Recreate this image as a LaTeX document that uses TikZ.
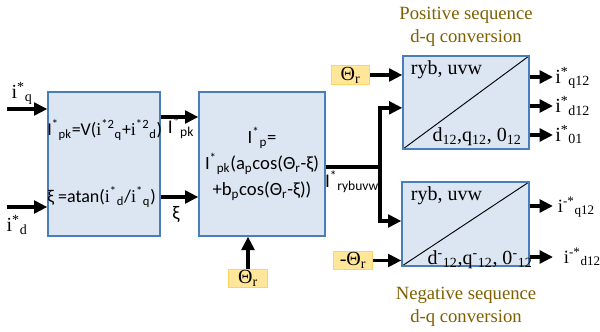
\documentclass[tikz,border=0pt]{standalone}
\usepackage{fontspec}
\setmainfont{Carlito}
\newfontfamily\tnr{Liberation Serif}
\usetikzlibrary{arrows.meta,positioning,calc}
\definecolor{boxfill}{RGB}{220,230,242}
\definecolor{boxline}{RGB}{74,126,187}
\definecolor{thfill}{RGB}{255,230,153}
\definecolor{thline}{RGB}{255,212,100}
\definecolor{titletxt}{RGB}{127,96,0}
\newcommand\up[1]{\textsuperscript{#1}}
\newcommand\dn[1]{\textsubscript{#1}}

\begin{document}
\begin{tikzpicture}[x=0.75pt,y=-0.75pt,
  calcbox/.style={draw=boxline, fill=boxfill, line width=1pt, inner sep=0pt,
    align=center, font=\fontsize{14}{19.5}\selectfont},
  convbox/.style={calcbox, path picture={\draw[black, line width=0.7pt]
    (path picture bounding box.south west) -- (path picture bounding box.north east);}},
  thetabox/.style={draw=thline, fill=thfill, line width=0.8pt, minimum width=29pt,
    minimum height=14pt, inner sep=1pt, font=\tnr\fontsize{15}{16}\selectfont},
  arr/.style={-{Triangle[length=10pt,width=9.5pt]}, line width=2.8pt},
  lbl/.style={font=\tnr\fontsize{15}{16}\selectfont, inner sep=0pt},
  slbl/.style={font=\fontsize{14.5}{16}\selectfont, inner sep=0pt},
  ttl/.style={font=\tnr\fontsize{14}{17.25}\selectfont, text=titletxt, align=center}
]
\useasboundingbox (0,0) rectangle (600,332);

% main blocks
\node[calcbox, minimum width=84pt, minimum height=108pt] (pk) at (104,164) {};
\node[calcbox, minimum width=94.5pt, minimum height=108pt] (ip) at (262,164)
  {I\up{*}\dn{p}=\\I\up{*}\dn{pk}(a\dn{p}cos(Θ\dn{r}-ξ)\\+b\dn{p}cos(Θ\dn{r}-ξ))};
\node[convbox, minimum width=94.5pt, minimum height=69.75pt] (pos) at (466,102.5) {};
\node[convbox, minimum width=95.25pt, minimum height=63pt] (neg) at (465.5,224) {};

% text in the blocks
\node[slbl, anchor=west, font=\fontsize{13.5}{16}\selectfont] (pkeq) at (47,130)
  {I\up{*}\dn{pk}=V({\tnr i}\up{*2}\dn{q}+{\tnr i}\up{*2}\dn{d})};
\node[slbl, anchor=west, font=\fontsize{13.5}{16}\selectfont] (xieq) at (47,197)
  {ξ =atan({\tnr i}\up{*}\dn{d}/{\tnr i}\up{*}\dn{q})};
\node[lbl] (posin) at (446.5,70) {ryb, uvw};
\node[lbl] (posout) at (477,137) {d\dn{12},q\dn{12}, 0\dn{12}};
\node[lbl] (negin) at (446.5,196) {ryb, uvw};
\node[lbl] (negout) at (480,260) {d\up{-}\dn{12},q\up{-}\dn{12}, 0\up{-}\dn{12}};

\node[ttl] (postitle) at (466,26.5) {Positive sequence\\d-q conversion};
\node[ttl] (negtitle) at (466,306.5) {Negative sequence\\d-q conversion};

% inputs
\coordinate (iqin) at (7,109);
\coordinate (idin) at (7,207);
\draw[arr] (iqin) -- (pk.west |- iqin);
\draw[arr] (idin) -- (pk.west |- idin);
\node[lbl] (iq) at (22,93) {i\up{*}\dn{q}};
\node[lbl] (id) at (17,225) {i\up{*}\dn{d}};

\draw[arr] ([yshift=35.25pt]pk.east) -- ([yshift=35.25pt]ip.west);
\draw[arr] ([yshift=-24.75pt]pk.east) -- ([yshift=-24.75pt]ip.west);
\node[slbl] (ipk) at (181,128) {I\up{*}\dn{pk}};
\node[slbl] (xi) at (176,214) {ξ};

\node[thetabox] (thb) at (248,278.5) {Θ\dn{r}};
\draw[arr] (thb.north) -- (thb.north |- ip.south);

% split to the two conversions
\coordinate (split) at (380,167);
\draw[line width=2.8pt] ([yshift=-2.25pt]ip.east) -- (split);
\draw[arr] (split) |- ([yshift=-4pt]pos.west);
\draw[arr] (split) |- ([yshift=2.25pt]neg.west);
\node[slbl] (iryb) at (352,182) {I\up{*}\dn{rybuvw}};

\node[thetabox] (thp) at (350.5,75) {Θ\dn{r}};
\draw[arr] (thp) -- (pos.west |- thp);
\node[thetabox] (thn) at (353,260.5) {-Θ\dn{r}};
\draw[arr] (thn) -- (neg.west |- thn);

% outputs
\coordinate (oq) at (553,77);
\coordinate (od) at (553,106);
\coordinate (oz) at (553,135);
\coordinate (nq) at (553,206);
\coordinate (nd) at (553,257);
\foreach \c in {oq,od,oz} \draw[arr] (pos.east |- \c) -- (\c);
\foreach \c in {nq,nd} \draw[arr] (neg.east |- \c) -- (\c);
\node[lbl, anchor=base west] (iq12) at ([xshift=1.5pt,yshift=-4.5pt]oq) {i\up{*}\dn{q12}};
\node[lbl, anchor=base west] (id12) at ([xshift=1.5pt,yshift=-4.5pt]od) {i\up{*}\dn{d12}};
\node[lbl, anchor=base west] (i01) at ([xshift=1.5pt,yshift=-4.5pt]oz) {i\up{*}\dn{01}};
\node[lbl, anchor=base west, font=\tnr\fontsize{14}{16}\selectfont] (nq12)
  at ([xshift=3.5pt,yshift=-4.5pt]nq) {i\up{-*}\dn{q12}};
\node[lbl, anchor=base west, font=\tnr\fontsize{14}{16}\selectfont] (nd12)
  at ([xshift=8pt,yshift=-4.5pt]nd) {i\up{-*}\dn{d12}};
\end{tikzpicture}
\end{document}
